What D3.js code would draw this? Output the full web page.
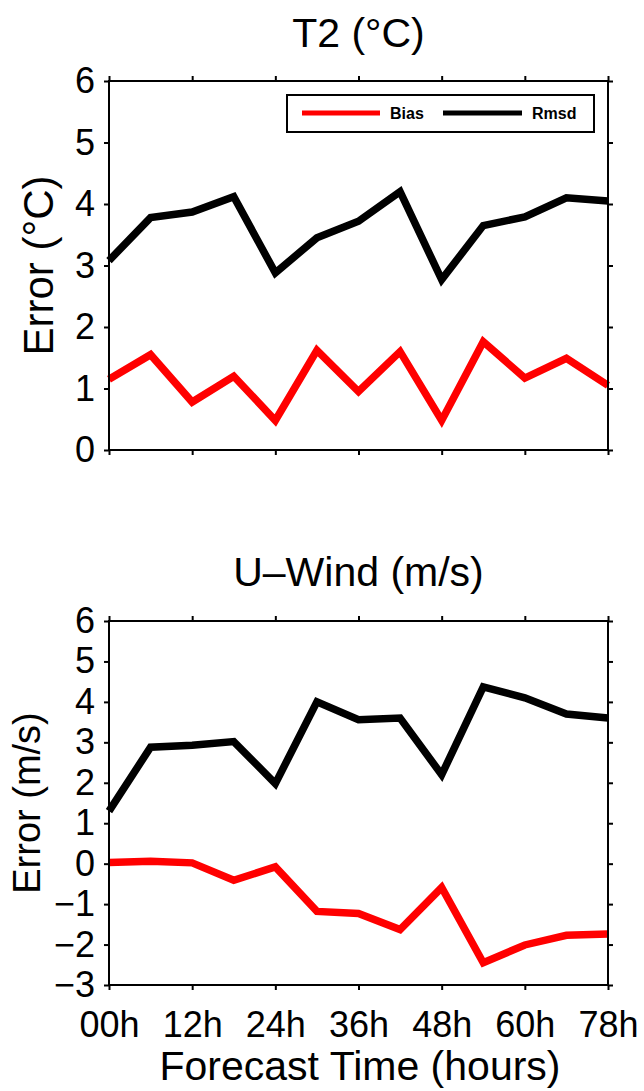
<!DOCTYPE html>
<html>
<head>
<meta charset="utf-8">
<script src="https://cdn.jsdelivr.net/npm/d3@7"></script>
<style>
  html, body { margin: 0; padding: 0; background: #fff; }
  svg { display: block; }
  text { font-family: "Liberation Sans", Arial, Helvetica, sans-serif; fill: #000; }
</style>
</head>
<body>
<svg id="chart" width="644" height="1091"></svg>
<script>
// ---- data ----
const steps = ["00h","06h","12h","18h","24h","30h","36h","42h","48h","54h","60h","66h","72h"];
const xTickLabels = ["00h","12h","24h","36h","48h","60h","78h"];
const seriesNames = ["Bias","Rmsd"];
const seriesColors = ["#ff0000","#000000"];

const t2Bias = [1.15, 1.55, 0.78, 1.20, 0.48, 1.62, 0.95, 1.60, 0.48, 1.76, 1.17, 1.49, 1.05];
const t2Rmsd = [3.08, 3.78, 3.87, 4.12, 2.88, 3.45, 3.72, 4.20, 2.77, 3.65, 3.79, 4.10, 4.05];
const uBias  = [0.03, 0.06, 0.02, -0.41, -0.08, -1.18, -1.23, -1.63, -0.59, -2.45, -2.01, -1.77, -1.74];
const uRmsd  = [1.30, 2.88, 2.93, 3.02, 1.98, 4.00, 3.56, 3.60, 2.20, 4.37, 4.10, 3.70, 3.60];

const t2YTicks = [0,1,2,3,4,5,6];
const uYTicks  = [-3,-2,-1,0,1,2,3,4,5,6];

const svg = d3.select("#chart");
const left = 109, right = 608;

const x = d3.scalePoint().domain(steps).range([left, right]);
const xTickVals = steps.filter((d, i) => i % 2 === 0);
const xFmt = d => xTickLabels[steps.indexOf(d) / 2];

function panel(opts) {
  const { top, bottom, yDomain, yTicks, bias, rmsd, title, titleY, yLabel, yLabelX, yLabelSize, showX, legend } = opts;
  const y = d3.scaleLinear().domain(yDomain).range([bottom, top]);
  const g = svg.append("g");

  // axes with outward ticks
  const styleAxis = (sel) => {
    sel.select(".domain").remove();
    sel.selectAll(".tick line").attr("stroke", "#000").attr("stroke-width", 2);
    sel.selectAll(".tick text").attr("font-size", 36).attr("font-family", '"Liberation Sans", Arial, sans-serif').attr("fill", "#000");
  };
  g.append("g").attr("transform", `translate(${left},0)`)
    .call(d3.axisLeft(y).tickValues(yTicks).tickSize(5).tickPadding(9).tickFormat(d3.format("d")))
    .call(styleAxis);
  g.append("g").attr("transform", `translate(${right},0)`)
    .call(d3.axisRight(y).tickValues(yTicks).tickSize(5).tickFormat(""))
    .call(styleAxis);
  g.append("g").attr("transform", `translate(0,${top})`)
    .call(d3.axisTop(x).tickValues(xTickVals).tickSize(5).tickFormat(""))
    .call(styleAxis);
  g.append("g").attr("transform", `translate(0,${bottom})`)
    .call(d3.axisBottom(x).tickValues(xTickVals).tickSize(5).tickPadding(21).tickFormat(showX ? xFmt : ""))
    .call(styleAxis);

  // lines
  const line = d3.line().x((d, i) => x(steps[i])).y(d => y(d));
  [bias, rmsd].forEach((s, k) => {
    g.append("path").datum(s)
      .attr("d", line)
      .attr("fill", "none")
      .attr("stroke", seriesColors[k])
      .attr("stroke-width", 7.5)
      .attr("stroke-linejoin", "miter")
      .attr("stroke-miterlimit", 4)
      .attr("stroke-linecap", "butt");
  });

  // frame
  g.append("rect").attr("x", left).attr("y", top)
    .attr("width", right - left).attr("height", bottom - top)
    .attr("fill", "none").attr("stroke", "#000").attr("stroke-width", 2);

  // title
  g.append("text").attr("x", (left + right) / 2).attr("y", titleY)
    .attr("text-anchor", "middle").attr("font-size", 41).text(title);

  // y label
  g.append("text")
    .attr("transform", `translate(${yLabelX},${(top + bottom) / 2}) rotate(-90)`)
    .attr("text-anchor", "middle").attr("font-size", yLabelSize).text(yLabel);

  if (legend) {
    const lg = g.append("g");
    lg.append("rect").attr("x", 287).attr("y", 95).attr("width", 307).attr("height", 37)
      .attr("fill", "#fff").attr("stroke", "#000").attr("stroke-width", 2);
    const items = [{x1: 302, x2: 380, tx: 390}, {x1: 443, x2: 522, tx: 532}];
    items.forEach((it, k) => {
      lg.append("line").attr("x1", it.x1).attr("x2", it.x2).attr("y1", 113).attr("y2", 113)
        .attr("stroke", seriesColors[k]).attr("stroke-width", 5);
      lg.append("text").attr("x", it.tx).attr("y", 119)
        .attr("font-size", 16).attr("font-weight", "bold")
        .text(seriesNames[k]);
    });
  }
}

panel({
  top: 81, bottom: 450, yDomain: [0, 6], yTicks: t2YTicks,
  bias: t2Bias, rmsd: t2Rmsd,
  title: "T2 (°C)", titleY: 47,
  yLabel: "Error (°C)", yLabelX: 53, yLabelSize: 42,
  showX: false, legend: true
});

panel({
  top: 621, bottom: 985, yDomain: [-3, 6], yTicks: uYTicks,
  bias: uBias, rmsd: uRmsd,
  title: "U–Wind (m/s)", titleY: 586,
  yLabel: "Error (m/s)", yLabelX: 40, yLabelSize: 38,
  showX: true, legend: false
});

svg.append("text").attr("x", 360).attr("y", 1080)
  .attr("text-anchor", "middle").attr("font-size", 41)
  .text("Forecast Time (hours)");
</script>
</body>
</html>
